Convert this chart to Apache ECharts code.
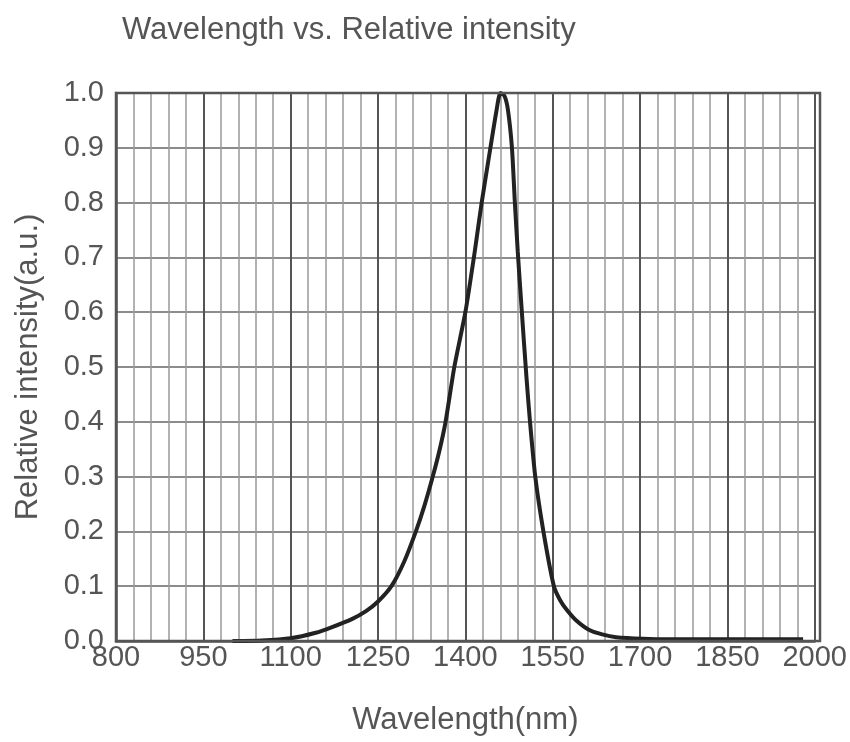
<!DOCTYPE html>
<html>
<head>
<meta charset="utf-8">
<script src="https://cdn.jsdelivr.net/npm/echarts@6/dist/echarts.min.js"></script>
<style>
  html, body { margin: 0; padding: 0; background: #fff; }
  #spectrum-chart { width: 850px; height: 742px; }
</style>
</head>
<body>
<div id="spectrum-chart"></div>
<script>
// wavelength (nm) and relative intensity
const wavelength = [1000, 1050, 1100, 1143, 1170, 1205, 1230, 1250, 1273, 1295, 1315, 1330, 1344, 1356, 1366, 1381, 1400, 1416, 1428, 1443, 1453, 1460, 1467, 1473, 1480, 1485, 1490, 1497, 1505, 1511, 1520, 1534, 1552, 1563, 1574, 1590, 1613, 1635, 1659, 1705, 1750, 1800, 1850, 1900, 1950, 1980];
const intensity = [0.000, 0.001, 0.005, 0.015, 0.025, 0.040, 0.055, 0.072, 0.100, 0.145, 0.200, 0.248, 0.300, 0.350, 0.400, 0.500, 0.600, 0.710, 0.800, 0.900, 0.965, 1.000, 0.995, 0.970, 0.900, 0.800, 0.710, 0.600, 0.480, 0.400, 0.300, 0.200, 0.100, 0.074, 0.057, 0.038, 0.020, 0.012, 0.007, 0.004, 0.003, 0.003, 0.003, 0.003, 0.003, 0.003];
const xTicks = [800, 950, 1100, 1250, 1400, 1550, 1700, 1850, 2000];
const yTicks = [0.0, 0.1, 0.2, 0.3, 0.4, 0.5, 0.6, 0.7, 0.8, 0.9, 1.0];

const chart = echarts.init(document.getElementById("spectrum-chart"));
const fontFamily = "'Liberation Sans', Arial, sans-serif";

chart.setOption({
  animation: false,
  title: {
    text: "Wavelength vs. Relative intensity",
    left: 117,
    top: 10,
    textStyle: { fontFamily, fontSize: 31, fontWeight: "normal", color: "#555" }
  },
  grid: { left: 116, right: 30, top: 93, bottom: 101 },
  xAxis: {
    type: "value",
    min: xTicks[0],
    max: xTicks[xTicks.length - 1],
    interval: 150,
    name: "Wavelength(nm)",
    nameLocation: "middle",
    nameGap: 64,
    nameTextStyle: { fontFamily, fontSize: 31, color: "#555" },
    axisLine: { show: true, lineStyle: { color: "#555", width: 2.5 } },
    axisTick: { show: false },
    axisLabel: { fontFamily, fontSize: 29, color: "#555", margin: 2, formatter: (v) => String(v) },
    splitLine: { show: true, lineStyle: { color: "#555", width: 2 } },
    minorTick: { show: false, splitNumber: 5 },
    minorSplitLine: { show: true, lineStyle: { color: "#999", width: 1.5 } }
  },
  yAxis: {
    type: "value",
    min: yTicks[0],
    max: yTicks[yTicks.length - 1],
    interval: 0.1,
    name: "Relative intensity(a.u.)",
    nameLocation: "middle",
    nameGap: 72,
    nameTextStyle: { fontFamily, fontSize: 31, color: "#555" },
    axisLine: { show: true, lineStyle: { color: "#555", width: 2.5 } },
    axisTick: { show: false },
    axisLabel: {
      fontFamily, fontSize: 29, color: "#555", margin: 12,
      formatter: (v) => v.toFixed(1)
    },
    splitLine: { show: true, lineStyle: { color: "#666", width: 1.5 } }
  },
  graphic: [{
    type: "rect",
    shape: { x: 116, y: 93, width: 704, height: 548 },
    style: { fill: "none", stroke: "#555", lineWidth: 2.5 },
    z: 10,
    silent: true
  }],
  series: [{
    type: "line",
    data: wavelength.map((w, i) => [w, intensity[i]]),
    showSymbol: false,
    smooth: 0.2,
    lineStyle: { color: "#222", width: 4 },
    z: 5
  }]
});
</script>
</body>
</html>
